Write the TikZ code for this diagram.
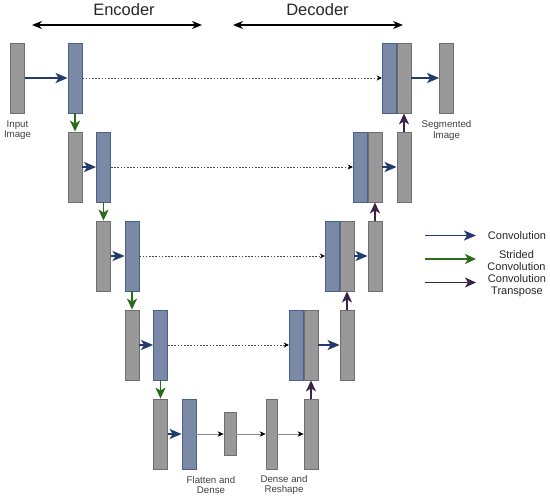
\documentclass[tikz,border=0pt]{standalone}
\usepackage{fontspec}
\setmainfont{Liberation Sans}
\usetikzlibrary{arrows.meta,positioning}
\definecolor{layergray}{HTML}{999999}
\definecolor{layergrayline}{HTML}{6E6E6E}
\definecolor{layerblue}{HTML}{7A8AA6}
\definecolor{layerblueline}{HTML}{4B5F8C}
\definecolor{convblue}{HTML}{223A6E}
\definecolor{stridegreen}{HTML}{2C6A1E}
\definecolor{transpurple}{HTML}{3B2448}
\definecolor{thingray}{HTML}{8A8A8A}

\begin{document}
\begin{tikzpicture}[x=1pt,y=-1pt,
  gbox/.style={draw=layergrayline,fill=layergray,line width=0.8pt,inner sep=0pt,
               minimum width=14pt,minimum height=70pt},
  bbox/.style={gbox,draw=layerblueline,fill=layerblue},
  conv/.style={-{Stealth[length=12pt,width=10pt,inset=3pt]},line width=1.9pt,convblue},
  stride/.style={-{Stealth[length=11pt,width=10pt,inset=3pt]},line width=1.9pt,stridegreen},
  trans/.style={-{Stealth[length=11pt,width=10pt,inset=3pt]},line width=1.9pt,transpurple},
  skip/.style={-{Stealth[length=5pt,width=5pt,color=black]},dash pattern=on 1.6pt off 1.6pt,
               line width=0.7pt,black!70},
  thin/.style={-{Stealth[length=6pt,width=5.5pt,color=black]},line width=0.7pt,thingray},
  span/.style={{Stealth[length=10pt,width=8pt]}-{Stealth[length=10pt,width=8pt]},line width=1.5pt,black},
  lbl/.style={align=center,inner sep=1pt,text=black!75,font=\fontsize{9.7}{10.5}\selectfont},
  leg/.style={align=center,inner sep=1pt,text=black!85,font=\fontsize{11}{12}\selectfont}
]
  \useasboundingbox (0,0) rectangle (550,498);

  % encoder
  \node[gbox] (in) at (17.5,78) {};
  \node[bbox] (eb1) at (75,78) {};
  \foreach \k/\gx/\y in {2/75/167,3/103.5/256,4/132/345,5/160.5/434}{
    \node[gbox] (eg\k) at (\gx,\y) {};
    \node[bbox] (eb\k) at (\gx+28.5,\y) {};
  }

  % bottleneck
  \node[gbox,minimum width=12pt,minimum height=43pt] (fd) at (230,434) {};
  \node[gbox,minimum width=11pt] (dr) at (271.5,434) {};

  % decoder
  \node[gbox] (dg1) at (404,78) {};
  \node[bbox,left=0pt of dg1] (db1) {};
  \node[gbox] (out) at (446.5,78) {};
  \node[gbox] (dg2) at (375,167) {};
  \node[bbox,left=0pt of dg2] (db2) {};
  \node[gbox] (dr2) at (404,167) {};
  \node[gbox] (dg3) at (347,256) {};
  \node[bbox,left=0pt of dg3] (db3) {};
  \node[gbox] (dr3) at (375,256) {};
  \node[gbox] (dg4) at (311,345) {};
  \node[bbox,left=0pt of dg4] (db4) {};
  \node[gbox] (dr4) at (347,345) {};
  \node[gbox] (dg5) at (311,434) {};

  % convolutions
  \draw[conv] (in) -- (eb1);
  \foreach \k in {2,...,5} \draw[conv] (eg\k) -- (eb\k);
  \draw[conv] (dg1) -- (out);
  \foreach \k in {2,3,4} \draw[conv] (dg\k) -- (dr\k);

  % strided convolutions
  \foreach \k/\n in {1/2,2/3,3/4,4/5} \draw[stride] (eb\k.south) -- (eg\n.north);

  % transposed convolutions
  \draw[trans] (dg5.north) -- (dg4.south);
  \foreach \k/\n in {4/3,3/2,2/1} \draw[trans] (dr\k.north) -- (dg\n.south);

  % skip connections
  \foreach \k in {1,...,4} \draw[skip] (eb\k.east) -- (db\k.west);

  % dense part
  \draw[thin] (eb5) -- (fd);
  \draw[thin] (fd) -- (dr);
  \draw[thin] (dr) -- (dg5);

  % labels
  \node[lbl,below=6pt of in] (inlbl) {Input\\Image};
  \node[lbl,below=6pt of out] (outlbl) {Segmented\\Image};
  \node[lbl] (fdlbl) at (211,485) {Flatten and\\Dense};
  \node[lbl] (drlbl) at (284,485) {Dense and\\Reshape};

  % encoder / decoder spans
  \coordinate (encl) at (32,25);
  \coordinate (encr) at (202,25);
  \coordinate (decl) at (233,25);
  \coordinate (decr) at (403,25);
  \draw[span] (encl) -- (encr);
  \draw[span] (decl) -- (decr);
  \node[font=\fontsize{16.5}{18}\selectfont,text=black!85] (enc) at (124,10) {Encoder};
  \node[font=\fontsize{16.5}{18}\selectfont,text=black!85] (dec) at (317.5,10) {Decoder};

  % legend
  \node[leg] (lconv) at (517,235.5) {Convolution};
  \node[leg] (lstride) at (516.5,260.5) {Strided\\Convolution};
  \node[leg] (ltrans) at (517,286) {Convolution\\Transpose};
  \coordinate (lc1) at (425,235.5);
  \coordinate (lc2) at (476,235.5);
  \coordinate (ls1) at (425,259);
  \coordinate (ls2) at (476,259);
  \coordinate (lt1) at (425,282.5);
  \coordinate (lt2) at (476,282.5);
  \draw[conv] (lc1) -- (lc2);
  \draw[stride] (ls1) -- (ls2);
  \draw[trans] (lt1) -- (lt2);
\end{tikzpicture}
\end{document}
